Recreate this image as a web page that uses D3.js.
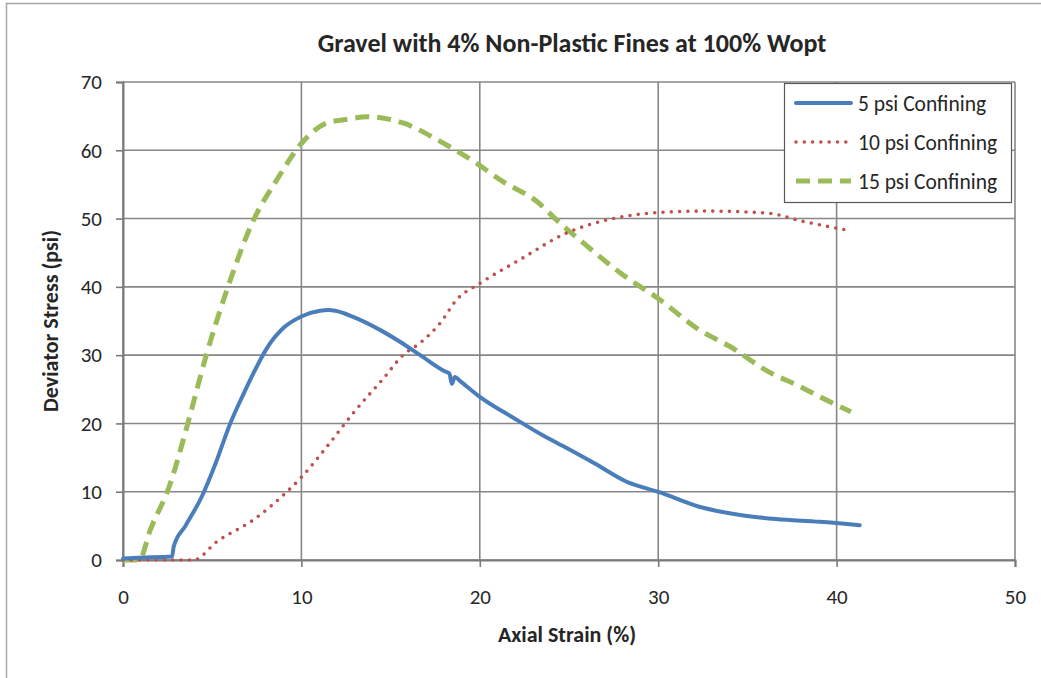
<!DOCTYPE html>
<html><head><meta charset="utf-8">
<script src="https://cdn.jsdelivr.net/npm/d3@7"></script>
<style>
html,body{margin:0;padding:0;background:#fff;}
svg{display:block;}
text{font-family:Carlito,"Liberation Sans Narrow","Open Sans",sans-serif;fill:#262626;}
</style></head>
<body>
<svg id="chart" width="1041" height="678"></svg>
<script>
const title = "Gravel with 4% Non-Plastic Fines at 100% Wopt";
const xTitle = "Axial Strain (%)";
const yTitle = "Deviator Stress (psi)";
const seriesNames = ["5 psi Confining", "10 psi Confining", "15 psi Confining"];
const xTicks = [0, 10, 20, 30, 40, 50];
const yTicks = [0, 10, 20, 30, 40, 50, 60, 70];

const strain5 = [0,0.6,2.75,2.84,3.5,4.42,5.2,6.01,6.7,7.32,8.06,9.0,10.03,11.05,11.5,11.9,12.9,14.4,15.5,16.66,18.06,18.3,18.43,18.6,18.9,20.0,21.9,23.5,24.87,26.4,28.2,30.1,32.3,34.6,36.6,39.06,41.3];
const stress5 = [0.2,0.3,0.5,1.95,5,9.3,14.2,20.0,24,27.4,31.0,34.0,35.7,36.5,36.6,36.5,35.6,33.7,32.0,30.0,27.6,27.3,25.8,26.8,26.2,23.9,20.8,18.3,16.4,14.2,11.5,9.9,7.8,6.6,6.0,5.6,5.1];

const strain10 = [0,3.96,5.27,7.32,9.19,10.03,11.43,12.9,14.6,15.7,16.66,17.78,18.7,20.0,22.26,24.87,27.3,30.1,32.7,36.1,38.1,40.8];
const stress10 = [0,0,2.7,5.9,10.0,12.2,16.6,21.5,26.6,30.0,31.8,34.7,38.1,40.5,44.0,47.9,49.9,50.9,51.1,50.8,49.6,48.2];

const strain15 = [0,0.9,1.53,2.65,3.58,4.7,5.83,7.32,8.63,10.03,11.43,12.5,13.67,15.7,17.78,19.64,21.3,23.2,24.3,26.0,27.9,30.1,32.3,34.0,36.3,37.8,39.6,40.8];
const stress15 = [0,0,4.4,11.2,19.5,30.3,39.6,49.8,55.7,61.1,64.0,64.5,64.9,64.0,61.3,58.4,55.4,52.5,49.8,46.0,42.0,38.1,33.7,31.3,27.4,25.6,23.2,21.7];

const svg = d3.select("#chart");
const L = 123, R = 1015, T = 82, B = 560;
const x = d3.scaleLinear().domain([0, 50]).range([L, R]);
const y = d3.scaleLinear().domain([0, 70]).range([B, T]);
const FONT = 'Carlito,"Liberation Sans Narrow","Open Sans",sans-serif';

// outer chart border
svg.append("rect").attr("x", 6.5).attr("y", 3.5).attr("width", 1060).attr("height", 700)
  .attr("fill", "none").attr("stroke", "#a6a6a6").attr("stroke-width", 1.5);

// gridlines
const grid = svg.append("g");
grid.selectAll("line.h").data(yTicks).join("line")
  .attr("x1", L).attr("x2", R).attr("y1", d => y(d)).attr("y2", d => y(d))
  .attr("stroke", "#878787").attr("stroke-width", 1.6);
grid.selectAll("line.v").data(xTicks).join("line")
  .attr("y1", T).attr("y2", B).attr("x1", d => x(d)).attr("x2", d => x(d))
  .attr("stroke", "#878787").attr("stroke-width", 1.6);

// axes
const xAxis = svg.append("g").attr("transform", `translate(0,${B})`)
  .call(d3.axisBottom(x).tickValues(xTicks).tickSize(7).tickPadding(22));
const yAxis = svg.append("g").attr("transform", `translate(${L},0)`)
  .call(d3.axisLeft(y).tickValues(yTicks).tickSize(7).tickPadding(14));
[xAxis, yAxis].forEach(a => {
  a.select(".domain").attr("stroke", "#7a7a7a").attr("stroke-width", 2);
  a.selectAll(".tick line").attr("stroke", "#7a7a7a").attr("stroke-width", 1.6);
  a.selectAll(".tick text").attr("font-size", 21).attr("fill", "#262626")
   .style("font-family", FONT);
});

// series
const line = d3.line().x(d => x(d[0])).y(d => y(d[1])).curve(d3.curveMonotoneX);
const zip = (a, b) => a.map((v, i) => [v, b[i]]);
const series = [
  {name: seriesNames[0], data: zip(strain5, stress5), color: "#4a7ebb", width: 4, dash: null, cap: "round"},
  {name: seriesNames[1], data: zip(strain10, stress10), color: "#c0504d", width: 3.6, dash: "0,8.3", cap: "round"},
  {name: seriesNames[2], data: zip(strain15, stress15), color: "#9bbb59", width: 5, dash: "14,8", cap: "butt"}
];
const plot = svg.append("g");
series.slice().reverse().forEach(s => {
  plot.append("path").attr("d", line(s.data)).attr("fill", "none")
    .attr("stroke", s.color).attr("stroke-width", s.width)
    .attr("stroke-dasharray", s.dash).attr("stroke-linecap", s.cap)
    .attr("stroke-linejoin", "round");
});

// titles
svg.append("text").attr("x", 572).attr("y", 52).attr("text-anchor", "middle")
  .attr("font-size", 26).attr("font-weight", "bold").text(title);
svg.append("text").attr("x", 567).attr("y", 642).attr("text-anchor", "middle")
  .attr("font-size", 22).attr("font-weight", "bold").text(xTitle);
svg.append("text").attr("transform", "translate(50,321) rotate(-90)").attr("text-anchor", "middle")
  .attr("dy", "0.35em").attr("font-size", 22).attr("font-weight", "bold").text(yTitle);

// legend
const lg = svg.append("g");
lg.append("rect").attr("x", 784.5).attr("y", 83.5).attr("width", 227).attr("height", 119)
  .attr("fill", "#fff").attr("stroke", "#595959").attr("stroke-width", 1.2);
const rowsY = [103, 142, 181];
series.forEach((s, i) => {
  lg.append("line").attr("x1", 796).attr("x2", 851).attr("y1", rowsY[i]).attr("y2", rowsY[i])
    .attr("stroke", s.color).attr("stroke-width", s.width)
    .attr("stroke-dasharray", s.dash).attr("stroke-linecap", s.cap);
  lg.append("text").attr("x", 858).attr("y", rowsY[i]).attr("dy", "0.35em")
    .attr("font-size", 21.5).text(s.name);
});
</script>
</body></html>
